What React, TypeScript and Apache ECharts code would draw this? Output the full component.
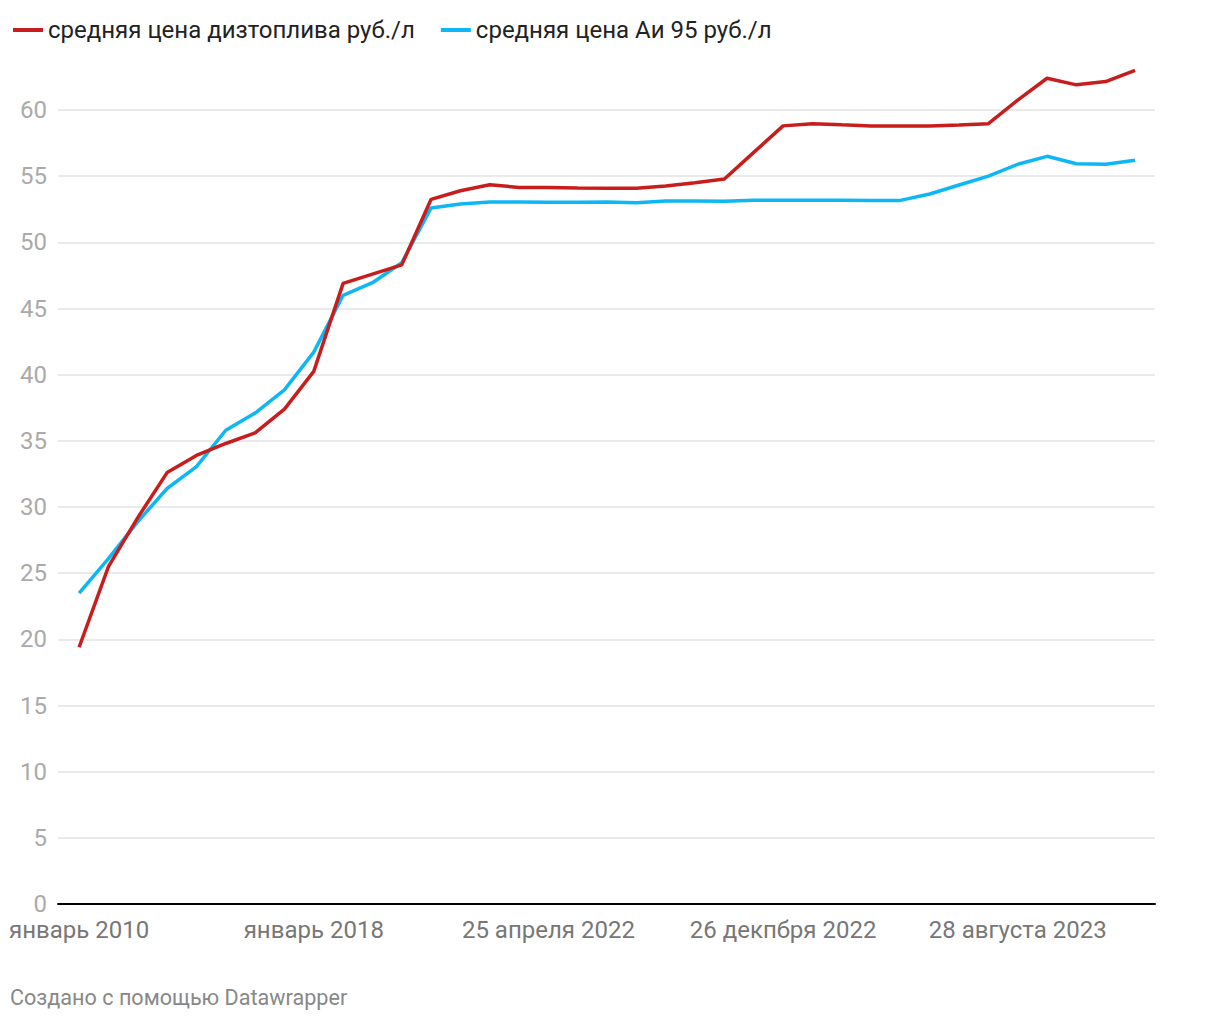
import React, { useEffect, useRef } from "react";
import * as echarts from "echarts";

const tickIndices = [0, 8, 16, 24, 32];
const tickLabels = ["январь 2010", "январь 2018", "25 апреля 2022", "26 декпбря 2022", "28 августа 2023"];

const dieselName = "средняя цена дизтоплива руб./л";
const ai95Name = "средняя цена Аи 95 руб./л";

const dieselValues = [
  19.4, 25.5, 29.2, 32.6, 33.9, 34.8, 35.6, 37.4, 40.25, 46.9,
  47.6, 48.3, 53.25, 53.9, 54.35, 54.15, 54.15, 54.1, 54.08, 54.08,
  54.26, 54.5, 54.78, 56.8, 58.8, 58.97, 58.88, 58.8, 58.8, 58.8,
  58.87, 58.97, 60.75, 62.4, 61.9, 62.15, 63.0,
];

const ai95Values = [
  23.5, 26.1, 28.9, 31.4, 33.05, 35.8, 37.1, 38.85, 41.7, 46.0,
  46.95, 48.46, 52.6, 52.9, 53.05, 53.05, 53.02, 53.02, 53.05, 53.0,
  53.12, 53.12, 53.1, 53.18, 53.18, 53.18, 53.18, 53.17, 53.17, 53.65,
  54.33, 55.0, 55.9, 56.5, 55.94, 55.9, 56.2,
];

const yTicks = [0, 5, 10, 15, 20, 25, 30, 35, 40, 45, 50, 55, 60];

export default function App() {
  const ref = useRef<HTMLDivElement>(null);
  useEffect(() => {
    document.body.style.margin = "0";
    const chart = echarts.init(ref.current!, null, { renderer: "svg" });
    const toPairs = (arr: number[]) => arr.map((v, i) => [i, v]);
    chart.setOption({
      animation: false,
      backgroundColor: "#ffffff",
      textStyle: { fontFamily: "Roboto" },
      legend: {
        left: 8,
        top: 13,
        itemWidth: 30,
        itemHeight: 4,
        itemGap: 26,
        icon: "rect",
        textStyle: { fontSize: 24, color: "#222222", fontFamily: "Roboto" },
        data: [dieselName, ai95Name],
      },
      grid: { left: 58, right: 65, top: 110, bottom: 116 },
      xAxis: {
        type: "value",
        min: -0.72,
        max: 36.68,
        axisLine: { show: true, lineStyle: { color: "#000000", width: 2 } },
        axisTick: { show: false },
        splitLine: { show: false },
        axisLabel: {
          customValues: tickIndices,
          formatter: (v: number) => {
            const k = tickIndices.indexOf(Math.round(v));
            return k >= 0 ? tickLabels[k] : "";
          },
          fontSize: 24,
          color: "#777777",
          margin: 14,
          fontFamily: "Roboto",
        },
      },
      yAxis: {
        type: "value",
        min: 0,
        max: 60,
        interval: 5,
        axisLine: { show: false },
        axisTick: { show: false },
        splitLine: { show: true, lineStyle: { color: "#e3e3e3", width: 1.5 } },
        axisLabel: {
          customValues: yTicks,
          fontSize: 24,
          color: "#aaaaaa",
          margin: 11,
          fontFamily: "Roboto",
        },
      },
      series: [
        {
          name: dieselName,
          type: "line",
          data: toPairs(dieselValues),
          symbol: "none",
          clip: false,
          z: 3,
          itemStyle: { color: "#c71e1d" },
          lineStyle: { color: "#c71e1d", width: 3.5 },
        },
        {
          name: ai95Name,
          type: "line",
          data: toPairs(ai95Values),
          symbol: "none",
          clip: false,
          z: 2,
          itemStyle: { color: "#0db7f5" },
          lineStyle: { color: "#0db7f5", width: 3.5 },
        },
      ],
      graphic: [
        {
          type: "text",
          left: 10,
          top: 986,
          style: {
            text: "Создано с помощью Datawrapper",
            fontSize: 21.6,
            fill: "#888888",
            fontFamily: "Roboto",
          },
        },
      ],
    });
    return () => chart.dispose();
  }, []);
  return <div ref={ref} style={{ width: 1220, height: 1020 }} />;
}
